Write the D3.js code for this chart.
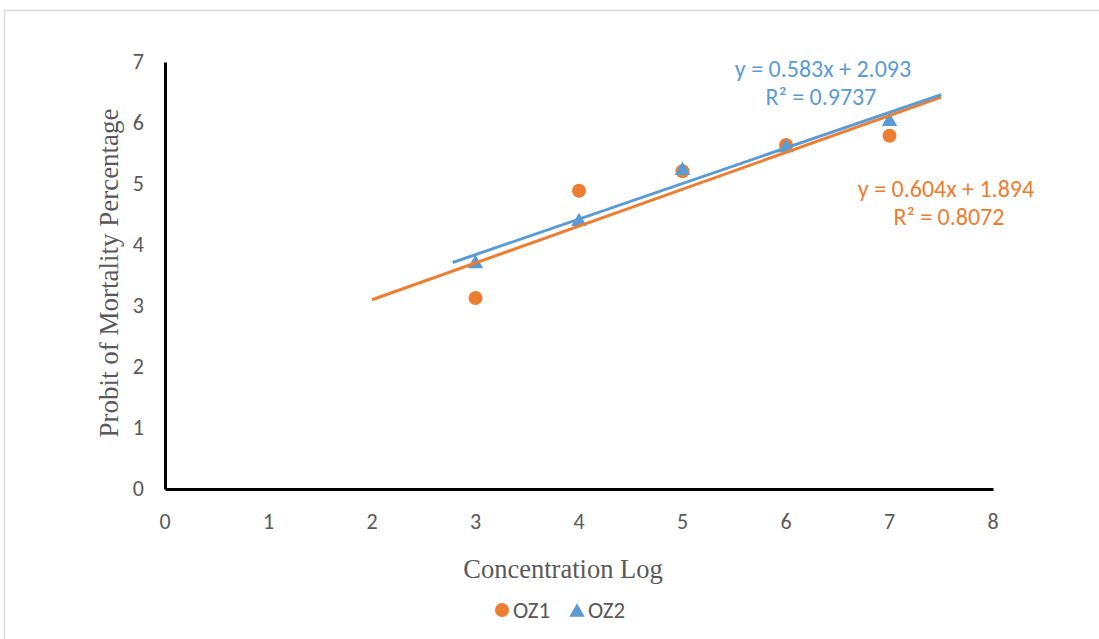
<!DOCTYPE html>
<html><head><meta charset="utf-8">
<script src="https://cdn.jsdelivr.net/npm/d3@7"></script>
<style>body{margin:0;background:#fff}svg{display:block}</style>
</head><body><svg id="c" width="1099" height="639"></svg>
<script>
const xTicks = [0,1,2,3,4,5,6,7,8];
const yTicks = [0,1,2,3,4,5,6,7];
const concLog = [3,4,5,6,7];
const oz1 = [3.13,4.89,5.21,5.64,5.79];
const oz2 = [3.73,4.42,5.26,5.63,6.06];
const trend1 = {slope:0.604, intercept:1.894, from:2.0, to:7.5, eq:"y = 0.604x + 1.894", r2:"R² = 0.8072"};
const trend2 = {slope:0.583, intercept:2.093, from:2.78, to:7.5, eq:"y = 0.583x + 2.093", r2:"R² = 0.9737"};
const colors = {OZ1:"#ED7D31", OZ2:"#5B9BD5"};

const svg = d3.select("#c");
svg.append("rect").attr("x",4.5).attr("y",10.5).attr("width",1110).attr("height",640)
  .attr("fill","none").attr("stroke","#d9d9d9").attr("stroke-width",1.5);

const x = d3.scaleLinear().domain([0,8]).range([165,993]);
const y = d3.scaleLinear().domain([0,7]).range([489,62]);
const sans = "Carlito, 'Open Sans', sans-serif";
const serif = "'Liberation Serif','Times New Roman',serif";

// bbox-centred triangle symbol (like Excel markers)
const triBox = {draw(ctx, size){
  const s = Math.sqrt(size*4/Math.sqrt(3)), h = s*Math.sqrt(3)/2;
  ctx.moveTo(0,-h/2); ctx.lineTo(s/2,h/2); ctx.lineTo(-s/2,h/2); ctx.closePath();
}};

// tick labels
svg.append("g").selectAll("text").data(xTicks).join("text")
  .attr("x",d=>x(d)).attr("y",529).attr("text-anchor","middle")
  .attr("font-family",sans).attr("font-size",22).attr("fill","#595959").text(d=>d);
svg.append("g").selectAll("text").data(yTicks).join("text")
  .attr("x",144).attr("y",d=>y(d)+7).attr("text-anchor","end")
  .attr("font-family",sans).attr("font-size",22).attr("fill","#595959").text(d=>d);

// axes lines
const axX = d3.axisBottom(x).tickValues([]).tickSizeOuter(0);
const axY = d3.axisLeft(y).tickValues([]).tickSizeOuter(0);
svg.append("g").attr("transform","translate(0,489)").call(axX).select(".domain").attr("stroke","#000").attr("stroke-width",3);
svg.append("g").attr("transform","translate(165,0)").call(axY).select(".domain").attr("stroke","#000").attr("stroke-width",3);

// axis titles
svg.append("text").attr("x",563).attr("y",578).attr("text-anchor","middle")
  .attr("font-family",serif).attr("font-size",26.5).attr("fill","#595959").text("Concentration Log");
svg.append("text").attr("transform","translate(118,273) rotate(-90)").attr("text-anchor","middle")
  .attr("font-family",serif).attr("font-size",27).attr("fill","#595959").text("Probit of Mortality Percentage");

// points
svg.append("g").selectAll("circle").data(concLog.map((c,i)=>[c,oz1[i]])).join("circle")
  .attr("cx",d=>x(d[0])).attr("cy",d=>y(d[1])).attr("r",7).attr("fill",colors.OZ1);
const tri = d3.symbol().type(triBox).size(105);
svg.append("g").selectAll("path").data(concLog.map((c,i)=>[c,oz2[i]])).join("path")
  .attr("transform",d=>`translate(${x(d[0])},${y(d[1])})`).attr("d",tri()).attr("fill",colors.OZ2);

// trendlines (drawn over markers, as in Excel)
const line = d3.line().x(d=>x(d[0])).y(d=>y(d[1]));
[[trend1,colors.OZ1],[trend2,colors.OZ2]].forEach(([t,c])=>{
  svg.append("path").datum([[t.from,t.slope*t.from+t.intercept],[t.to,t.slope*t.to+t.intercept]])
    .attr("d",line).attr("stroke",c).attr("stroke-width",3).attr("fill","none");
});

// equations
svg.append("text").attr("x",823).attr("y",77).attr("text-anchor","middle").attr("font-family",sans).attr("font-size",24).attr("fill",colors.OZ2).text(trend2.eq);
svg.append("text").attr("x",821).attr("y",105).attr("text-anchor","middle").attr("font-family",sans).attr("font-size",24).attr("fill",colors.OZ2).text(trend2.r2);
svg.append("text").attr("x",946).attr("y",197).attr("text-anchor","middle").attr("font-family",sans).attr("font-size",24).attr("fill",colors.OZ1).text(trend1.eq);
svg.append("text").attr("x",949).attr("y",225).attr("text-anchor","middle").attr("font-family",sans).attr("font-size",24).attr("fill",colors.OZ1).text(trend1.r2);

// legend
const lg = svg.append("g");
lg.append("circle").attr("cx",502).attr("cy",610).attr("r",7).attr("fill",colors.OZ1);
lg.append("text").attr("x",513).attr("y",618).attr("font-family",sans).attr("font-size",23).attr("fill","#595959").text("OZ1");
lg.append("path").attr("transform","translate(577,610)").attr("d",d3.symbol().type(triBox).size(105)()).attr("fill",colors.OZ2);
lg.append("text").attr("x",588).attr("y",618).attr("font-family",sans).attr("font-size",23).attr("fill","#595959").text("OZ2");
</script></body></html>
